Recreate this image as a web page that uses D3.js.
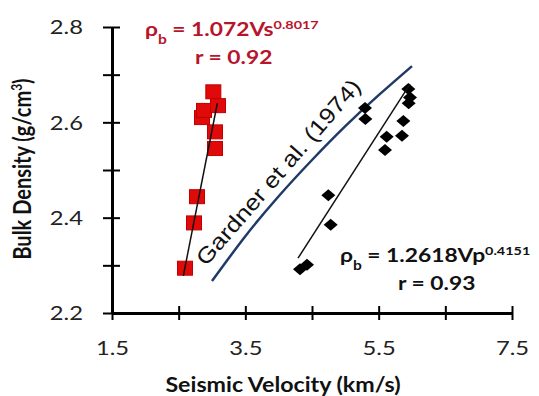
<!DOCTYPE html>
<html><head><meta charset="utf-8">
<script src="https://cdn.jsdelivr.net/npm/d3@7"></script>
<style>body{margin:0;background:#fff}svg{display:block}</style>
</head><body>
<svg id="c" width="539" height="396"></svg>
<script>
// ---- data ----
const xTicks = [1.5, 2.5, 3.5, 4.5, 5.5, 6.5, 7.5];
const xTickLabels = ["1.5", "", "3.5", "", "5.5", "", "7.5"];
const yTicks = [2.2, 2.3, 2.4, 2.5, 2.6, 2.7, 2.8];
const yTickLabels = ["2.2", "", "2.4", "", "2.6", "", "2.8"];
// Vs (km/s) vs bulk density (red squares)
const vsVel = [2.595, 2.73, 2.775, 2.85, 2.88, 3.02, 3.09, 3.045, 3.045];
const vsDen = [2.294, 2.389, 2.444, 2.61, 2.625, 2.664, 2.635, 2.58, 2.545];
// Vp (km/s) vs bulk density (black diamonds)
const vpVel = [4.32, 4.425, 4.745, 4.78, 5.295, 5.30, 5.62, 5.595, 5.87, 5.85, 5.945, 5.97, 5.95];
const vpDen = [2.292, 2.301, 2.447, 2.385, 2.63, 2.607, 2.57, 2.542, 2.603, 2.572, 2.67, 2.652, 2.64];
// fitted trend lines (end points)
const vsFitVel = [2.57, 3.08];
const vsFitDen = [2.278, 2.64];
const vpFitVel = [4.29, 5.97];
const vpFitDen = [2.315, 2.68];
// Gardner et al. (1974) curve
const gardVel = [3.0, 3.5, 4.0, 4.5, 5.0, 5.5, 6.0];
const gardDen = [2.267, 2.361, 2.445, 2.521, 2.592, 2.657, 2.718];

const svg = d3.select("#c");
const x = d3.scaleLinear().domain([1.5, 7.5]).range([112, 512]);
const y = d3.scaleLinear().domain([2.2, 2.8]).range([313, 27]);
const font = "Lato, 'Open Sans', sans-serif";
const SX = 1.25; // horizontal stretch of the lettering

// axes
const xAxis = svg.append("g").attr("transform", `translate(0,${y(2.2)})`)
  .call(d3.axisBottom(x).tickValues(xTicks).tickSizeOuter(0)
    .tickFormat((d, i) => xTickLabels[i]));
xAxis.select(".domain").attr("stroke", "#000").attr("stroke-width", 3);
xAxis.selectAll(".tick line").attr("y1", -7).attr("y2", 7).attr("stroke", "#000").attr("stroke-width", 2);
xAxis.selectAll(".tick text").attr("y", 0).attr("dy", null)
  .attr("transform", `translate(0,42) scale(${SX},1)`)
  .style("font-family", font).style("font-size", "19px").attr("fill", "#222");

const yAxis = svg.append("g").attr("transform", `translate(${x(1.5)},0)`)
  .call(d3.axisLeft(y).tickValues(yTicks).tickSizeOuter(0)
    .tickFormat((d, i) => yTickLabels[i]));
yAxis.select(".domain").attr("stroke", "#000").attr("stroke-width", 3);
yAxis.selectAll(".tick line").attr("x1", -9).attr("x2", 8).attr("stroke", "#000").attr("stroke-width", 2);
yAxis.selectAll(".tick text").attr("x", 0).attr("dy", "0.36em")
  .attr("transform", `translate(-29,0) scale(${SX},1)`)
  .style("font-family", font).style("font-size", "19px").attr("fill", "#222");

// axis titles
svg.append("text").attr("transform", `translate(283,392) scale(1.16,1)`).attr("text-anchor", "middle")
  .style("font-family", font).style("font-size", "20px").style("font-weight", "bold")
  .attr("fill", "#111").text("Seismic Velocity (km/s)");
const yt = svg.append("text").attr("transform", `translate(31,169) scale(${SX},1) rotate(-90)`)
  .attr("text-anchor", "middle")
  .style("font-family", font).style("font-size", "20px").style("font-weight", "bold").attr("fill", "#111");
yt.append("tspan").text("Bulk Density (g/cm");
yt.append("tspan").attr("baseline-shift", "super").style("font-size", "12px").text("3");
yt.append("tspan").text(")");

const line = d3.line().x(d => x(d[0])).y(d => y(d[1]));

// Gardner curve
svg.append("path").datum(d3.zip(gardVel, gardDen))
  .attr("d", d3.line().x(d => x(d[0])).y(d => y(d[1])).curve(d3.curveNatural))
  .attr("fill", "none").attr("stroke", "#1f3a68").attr("stroke-width", 2.5);
svg.append("text").attr("transform", `translate(206,267) rotate(-49)`)
  .attr("textLength", 238).attr("lengthAdjust", "spacingAndGlyphs")
  .style("font-family", "'Liberation Sans', Arial, sans-serif").style("font-size", "22px")
  .attr("fill", "#111").text("Gardner et al. (1974)");

// red squares
const sqW = 15, sqH = 14;
svg.append("g").selectAll("rect").data(d3.zip(vsVel, vsDen)).join("rect")
  .attr("x", d => x(d[0]) - sqW / 2).attr("y", d => y(d[1]) - sqH / 2)
  .attr("width", sqW).attr("height", sqH).attr("fill", "#e00a0a").attr("stroke", "#c00000").attr("stroke-width", 1);
svg.append("path").datum(d3.zip(vsFitVel, vsFitDen)).attr("d", line)
  .attr("stroke", "#111").attr("stroke-width", 1.5).attr("fill", "none");

// black diamonds
const dW = 7, dH = 6;
svg.append("g").selectAll("path").data(d3.zip(vpVel, vpDen)).join("path")
  .attr("transform", d => `translate(${x(d[0])},${y(d[1])})`)
  .attr("d", `M0,${-dH}L${dW},0L0,${dH}L${-dW},0Z`).attr("fill", "#000");
svg.append("path").datum(d3.zip(vpFitVel, vpFitDen)).attr("d", line)
  .attr("stroke", "#111").attr("stroke-width", 1.5).attr("fill", "none");

// equations
function eq(xp, yp, coef, v, ex, r, color, rx) {
  const t = svg.append("text").attr("transform", `translate(${xp},${yp}) scale(1.2,1)`)
    .style("font-family", font).style("font-size", "19px").style("font-weight", "bold").attr("fill", color);
  t.append("tspan").text("ρ");
  t.append("tspan").attr("baseline-shift", "sub").style("font-size", "13px").text("b");
  t.append("tspan").text(" = " + coef + v);
  t.append("tspan").attr("baseline-shift", "super").style("font-size", "12px").text(ex);
  svg.append("text").attr("transform", `translate(${rx},${yp + 28}) scale(1.2,1)`)
    .style("font-family", font).style("font-size", "19px").style("font-weight", "bold").attr("fill", color)
    .text("r = " + r);
}
eq(145, 36, "1.072", "Vs", "0.8017", "0.92", "#b8142c", 195);
eq(340, 262, "1.2618", "Vp", "0.4151", "0.93", "#111", 398);
</script>
</body></html>
